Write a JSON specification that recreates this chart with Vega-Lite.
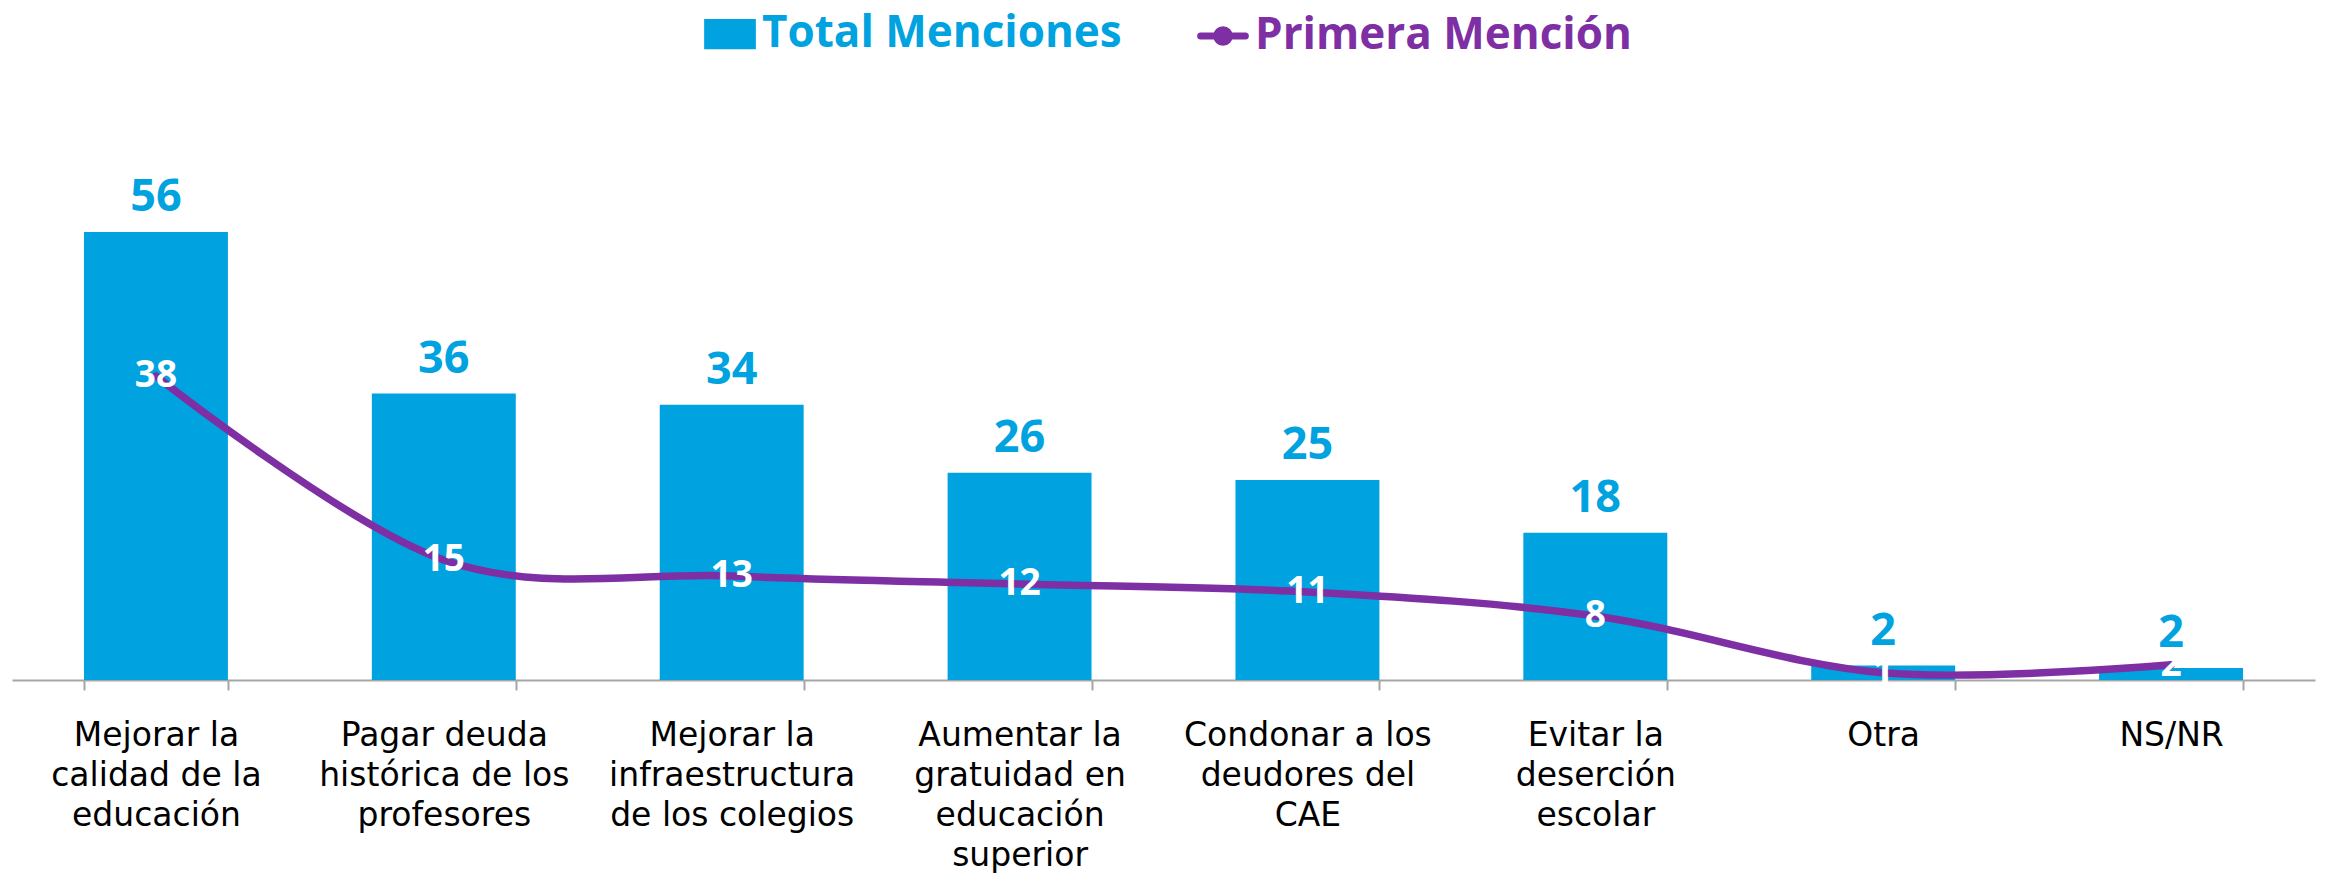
{
  "$schema": "https://vega.github.io/schema/vega-lite/v6.json",
  "width": 2303,
  "height": 480,
  "autosize": {"type": "none"},
  "padding": {"left": 12, "top": 200, "right": 10, "bottom": 199},
  "background": "white",
  "config": {"view": {"stroke": null}, "font": "Open Sans"},
  "data": {
    "values": [
      {"categoria": "Mejorar la\ncalidad de la\neducación", "total": 56, "primera": 38},
      {"categoria": "Pagar deuda\nhistórica de los\nprofesores", "total": 35.8, "primera": 15},
      {"categoria": "Mejorar la\ninfraestructura\nde los colegios", "total": 34.4, "primera": 13},
      {"categoria": "Aumentar la\ngratuidad en\neducación\nsuperior", "total": 25.9, "primera": 12},
      {"categoria": "Condonar a los\ndeudores del\nCAE", "total": 25, "primera": 11},
      {"categoria": "Evitar la\ndeserción\nescolar", "total": 18.4, "primera": 8},
      {"categoria": "Otra", "total": 1.8, "primera": 0.9},
      {"categoria": "NS/NR", "total": 1.5, "primera": 1.9}
    ]
  },
  "encoding": {
    "x": {
      "field": "categoria",
      "type": "nominal",
      "sort": null,
      "scale": {"paddingInner": 0.5, "paddingOuter": 0.25},
      "axis": {
        "title": null,
        "labelAngle": 0,
        "labelExpr": "split(datum.label, '\\n')",
        "labelFont": "DejaVu Sans",
        "labelFontSize": 33,
        "labelLineHeight": 40,
        "labelColor": "#000000",
        "labelPadding": 29,
        "labelBaseline": "top",
        "labelLimit": 500,
        "labelOverlap": false,
        "domainColor": "#A6A6A6",
        "domainWidth": 2,
        "tickColor": "#A6A6A6",
        "tickWidth": 2,
        "tickSize": 10,
        "tickBand": "extent"
      }
    }
  },
  "layer": [
    {
      "mark": {"type": "bar"},
      "encoding": {
        "y": {"field": "total", "type": "quantitative", "scale": {"domain": [0, 60]}, "axis": null},
        "color": {
          "datum": "Total Menciones",
          "type": "nominal",
          "scale": {"domain": ["Total Menciones", "Primera Mención"], "range": ["#00A3E0", "#7E2FA4"]},
          "legend": {
            "orient": "none",
            "legendX": 692,
            "legendY": -192,
            "direction": "horizontal",
            "title": null,
            "labelFont": "Open Sans",
            "labelFontSize": 44,
            "labelFontWeight": "bold",
            "labelOffset": 6,
            "labelBaseline": "middle",
            "labelLimit": 600,
            "columnPadding": 64,
            "symbolSize": 2000,
            "encode": {
              "symbols": {
                "update": {
                  "shape": {"signal": "datum.value === 'Total Menciones' ? 'M-1,-0.52H1V0.52H-1Z' : 'M-1,0H1M0.28,0A0.28,0.28 0 1,1 -0.28,0A0.28,0.28 0 1,1 0.28,0Z'"},
                  "fill": {"signal": "datum.value === 'Total Menciones' ? '#00A3E0' : '#7E2FA4'"},
                  "stroke": {"signal": "datum.value === 'Total Menciones' ? 'transparent' : '#7E2FA4'"},
                  "strokeWidth": {"value": 7},
                  "strokeCap": {"value": "round"},
                  "opacity": {"value": 1}
                }
              },
              "labels": {
                "update": {
                  "fill": {"signal": "datum.value === 'Total Menciones' ? '#00A3E0' : '#7E2FA4'"}
                }
              }
            }
          }
        }
      }
    },
    {
      "mark": {"type": "text", "baseline": "alphabetic", "dy": -21, "fontSize": 45, "fontWeight": "bold", "color": "#00A3E0", "font": "Open Sans"},
      "encoding": {
        "y": {"field": "total", "type": "quantitative"},
        "text": {"field": "total", "type": "quantitative", "format": ".0f"}
      }
    },
    {
      "mark": {"type": "line", "interpolate": "cardinal", "strokeWidth": 7.5, "strokeCap": "round"},
      "encoding": {
        "y": {"field": "primera", "type": "quantitative"},
        "color": {"datum": "Primera Mención", "type": "nominal"}
      }
    },
    {
      "mark": {"type": "text", "baseline": "middle", "fontSize": 37, "fontWeight": "bold", "color": "#FFFFFF", "font": "Open Sans"},
      "encoding": {
        "y": {"field": "primera", "type": "quantitative"},
        "text": {"field": "primera", "type": "quantitative", "format": ".0f"}
      }
    }
  ]
}
